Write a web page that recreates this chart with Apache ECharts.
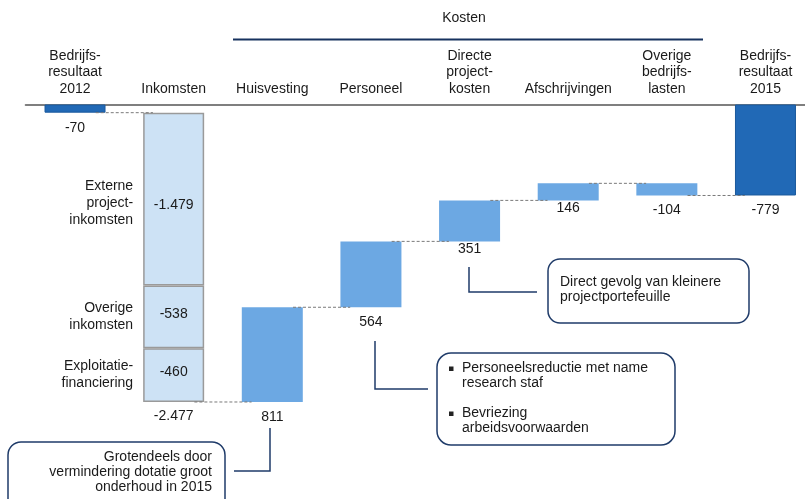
<!DOCTYPE html>
<html>
<head>
<meta charset="utf-8">
<title>Bedrijfsresultaat 2012 - 2015</title>
<script src="https://cdn.jsdelivr.net/npm/echarts@6/dist/echarts.min.js"></script>
<style>
  html, body { margin: 0; padding: 0; background: #fff; }
  #chart { width: 805px; height: 499px; }
</style>
</head>
<body>
<div id="chart"></div>
<script>
  const categories = [
    'Bedrijfs-\nresultaat\n2012', 'Inkomsten', 'Huisvesting', 'Personeel',
    'Directe\nproject-\nkosten', 'Afschrijvingen', 'Overige\nbedrijfs-\nlasten', 'Bedrijfs-\nresultaat\n2015'
  ]
  const startResult = -70
  const inkomstenNames = ['Externe\nproject-\ninkomsten', 'Overige\ninkomsten', 'Exploitatie-\nfinanciering']
  const inkomstenValues = [-1479, -538, -460]
  // Huisvesting, Personeel, Directe projectkosten, Afschrijvingen, Overige bedrijfslasten
  const kostenValues = [811, 564, 351, 146, -104]
  const endResult = -779

  const font = '"Liberation Sans", Arial, sans-serif'
  const textColor = '#1a1a1a'
  const navy = '#1f3b69'

  function fmt(v) {
    const s = Math.abs(v).toString().replace(/\B(?=(\d{3})+(?!\d))/g, '.')
    return (v < 0 ? '-' : '') + s
  }

  // waterfall: invisible base + visible part, all stacked below zero
  const inkTotal = inkomstenValues.reduce((a, b) => a + b, 0)
  let level = startResult + inkTotal
  const base = [0, startResult]
  const kosten = ['-', '-']
  const levels = [startResult, level]
  kostenValues.forEach((v) => {
    const next = level + v
    base.push(Math.max(level, next))
    kosten.push(-Math.abs(v))
    level = next
    levels.push(level)
  })
  base.push(0)
  kosten.push('-')

  const totaal = categories.map((c, i) => (i === 0 ? startResult : i === categories.length - 1 ? endResult : '-'))

  let acc = startResult
  const inkMid = inkomstenValues.map((v) => {
    const m = acc + v / 2
    acc += v
    return [1, m]
  })

  const inkSeries = inkomstenValues.map((v, k) => ({
    name: inkomstenNames[k],
    type: 'bar',
    stack: 'wf',
    barWidth: 61,
    data: categories.map((c, i) => (i === 1 ? v : '-')),
    itemStyle: { color: '#cde2f5', borderColor: '#9a9a9a', borderWidth: 1.5 },
    label: {
      show: true,
      position: 'inside',
      offset: k === 0 ? [0, 6] : [0, -3],
      color: textColor,
      fontSize: 14,
      fontFamily: font,
      formatter: () => fmt(v)
    }
  }))

  const chart = echarts.init(document.getElementById('chart'))

  chart.setOption({
    animation: false,
    grid: {
      left: 25.7,
      right: -9.8,
      top: 104.5,
      bottom: 44.1,
      outerBoundsMode: 'none'
    },
    xAxis: {
      type: 'category',
      position: 'top',
      data: categories,
      axisLine: { lineStyle: { color: '#7f7f7f', width: 2 } },
      axisTick: { show: false },
      axisLabel: {
        interval: 0,
        margin: 7,
        color: textColor,
        fontSize: 14,
        lineHeight: 16.7,
        fontFamily: font
      },
      splitLine: { show: false }
    },
    yAxis: {
      type: 'value',
      min: -3000,
      max: 0,
      show: false
    },
    series: [
      {
        name: 'base',
        type: 'bar',
        stack: 'wf',
        barWidth: 61,
        silent: true,
        itemStyle: { color: 'transparent' },
        data: base
      },
      {
        name: 'Bedrijfsresultaat',
        type: 'bar',
        stack: 'wf',
        barWidth: 61,
        data: totaal,
        itemStyle: { color: '#2169b6', borderColor: '#1b5a9d', borderWidth: 1 },
        label: {
          show: true,
          position: 'bottom',
          distance: 8,
          color: textColor,
          fontSize: 14,
          fontFamily: font,
          formatter: (p) => fmt(p.value)
        }
      },
      ...inkSeries,
      {
        name: 'Kosten',
        type: 'bar',
        stack: 'wf',
        barWidth: 61,
        data: kosten.map((v, i) => (i === 4 || i === 5 ? { value: v, label: { distance: 1 } } : v)),
        itemStyle: { color: '#6ca8e3' },
        label: {
          show: true,
          position: 'bottom',
          distance: 8,
          color: textColor,
          fontSize: 14,
          fontFamily: font,
          formatter: (p) => fmt(kostenValues[p.dataIndex - 2])
        }
      },
      {
        name: 'namen',
        type: 'scatter',
        symbolSize: 1,
        silent: true,
        itemStyle: { color: 'rgba(0,0,0,0)', opacity: 1 },
        data: inkMid,
        label: {
          show: true,
          position: 'left',
          distance: 40,
          align: 'right',
          color: textColor,
          opacity: 1,
          fontSize: 14,
          lineHeight: 17,
          fontFamily: font,
          formatter: (p) => inkomstenNames[p.dataIndex]
        },
        labelLayout: (p) => (p.dataIndex === 0 ? { dy: 4 } : {})
      },
      {
        name: 'inkomsten totaal',
        type: 'scatter',
        symbolSize: 1,
        silent: true,
        itemStyle: { color: 'rgba(0,0,0,0)', opacity: 1 },
        data: [[1, startResult + inkTotal]],
        label: {
          show: true,
          position: 'bottom',
          distance: 7,
          color: textColor,
          opacity: 1,
          fontSize: 14,
          fontFamily: font,
          formatter: () => fmt(inkTotal)
        }
      },
      {
        name: 'verbinding',
        type: 'custom',
        silent: true,
        z: 3,
        data: levels.map((v, i) => [i, v]),
        renderItem: (params, api) => {
          const i = api.value(0)
          const p1 = api.coord([i, api.value(1)])
          const p2 = api.coord([i + 1, api.value(1)])
          const band = api.size([1, 0])[0]
          return {
            type: 'line',
            shape: { x1: p1[0] + band * 0.21, y1: p1[1], x2: p2[0] - band * 0.21, y2: p2[1] },
            style: { stroke: '#7a7a7a', lineWidth: 1, lineDash: [3, 2] }
          }
        }
      }
    ],
    graphic: [
      // Kosten header
      {
        type: 'text', x: 464, y: 18,
        style: { text: 'Kosten', font: '14px ' + font, fill: textColor, align: 'center', verticalAlign: 'middle' }
      },
      {
        type: 'line', shape: { x1: 233, y1: 39.5, x2: 703, y2: 39.5 },
        style: { stroke: '#17325f', lineWidth: 2 }
      },
      // Huisvesting toelichting
      {
        type: 'polyline', shape: { points: [[270, 428], [270, 471], [234, 471]] },
        style: { stroke: navy, lineWidth: 1.5, fill: null }
      },
      {
        type: 'rect', shape: { x: 8, y: 442, width: 217, height: 75, r: 13 },
        style: { fill: '#fff', stroke: navy, lineWidth: 1.5 }
      },
      {
        type: 'text', x: 212, y: 449.5,
        style: {
          text: 'Grotendeels door\nvermindering dotatie groot\nonderhoud in 2015',
          font: '14px ' + font, fill: textColor, align: 'right', verticalAlign: 'top', lineHeight: 15
        }
      },
      // Personeel toelichting
      {
        type: 'polyline', shape: { points: [[375, 341], [375, 389], [428, 389]] },
        style: { stroke: navy, lineWidth: 1.5, fill: null }
      },
      {
        type: 'rect', shape: { x: 437, y: 353, width: 238, height: 92, r: 14 },
        style: { fill: '#fff', stroke: navy, lineWidth: 1.5 }
      },
      { type: 'rect', shape: { x: 449, y: 366.5, width: 4.5, height: 4.5 }, style: { fill: '#222' } },
      { type: 'rect', shape: { x: 449, y: 411.5, width: 4.5, height: 4.5 }, style: { fill: '#222' } },
      {
        type: 'text', x: 462, y: 360.5,
        style: {
          text: 'Personeelsreductie met name\nresearch staf\n\nBevriezing\narbeidsvoorwaarden',
          font: '14px ' + font, fill: textColor, align: 'left', verticalAlign: 'top', lineHeight: 15
        }
      },
      // Directe projectkosten toelichting
      {
        type: 'polyline', shape: { points: [[469, 267], [469, 292], [537, 292]] },
        style: { stroke: navy, lineWidth: 1.5, fill: null }
      },
      {
        type: 'rect', shape: { x: 548, y: 259, width: 201, height: 64, r: 12 },
        style: { fill: '#fff', stroke: navy, lineWidth: 1.5 }
      },
      {
        type: 'text', x: 560, y: 274.5,
        style: {
          text: 'Direct gevolg van kleinere\nprojectportefeuille',
          font: '14px ' + font, fill: textColor, align: 'left', verticalAlign: 'top', lineHeight: 15
        }
      }
    ]
  })
</script>
</body>
</html>
